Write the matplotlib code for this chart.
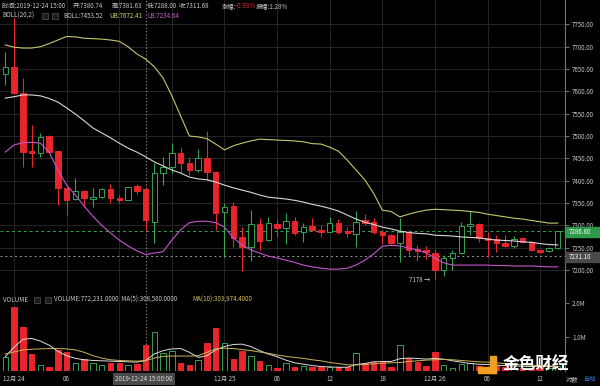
import numpy as np
import pandas as pd
import matplotlib
matplotlib.use("Agg")
import matplotlib.pyplot as plt
from matplotlib.patches import Rectangle

plt.rcParams['font.family'] = ['Noto Sans CJK SC', 'DejaVu Sans']

# 1小时K线, 2019-12-23 23:00 起
times = pd.date_range('2019-12-23 23:00', periods=64, freq='h')

opens = [7640, 7655, 7597, 7467, 7461, 7500, 7466, 7383, 7358, 7378,
         7359, 7364, 7381, 7362, 7357, 7387, 7380.74, 7308, 7417, 7430,
         7463, 7440, 7424, 7451, 7420, 7329, 7343, 7273, 7251, 7302,
         7267, 7302, 7293, 7310, 7284, 7299, 7290, 7286, 7305, 7287,
         7281, 7312, 7308, 7284, 7278, 7261, 7286, 7246, 7245, 7237,
         7200, 7226, 7237, 7299, 7303, 7271, 7269, 7261, 7254, 7271,
         7263, 7245, 7243, 7249]
highs = [7689, 7765, 7629, 7525, 7506, 7502, 7467, 7385, 7405, 7380,
         7384, 7383, 7392, 7368, 7385, 7392, 7381.63, 7439, 7454, 7484,
         7476, 7454, 7472, 7512, 7422, 7349, 7353, 7297, 7334, 7317,
         7318, 7315, 7327, 7319, 7305, 7316, 7301, 7319, 7315, 7297,
         7333, 7325, 7316, 7290, 7280, 7316, 7290, 7256, 7253, 7248,
         7234, 7245, 7308, 7331, 7305, 7286, 7278, 7278, 7276, 7274,
         7266, 7247, 7252, 7288]
lows = [7614, 7595, 7431, 7431, 7454, 7463, 7345, 7323, 7357, 7342,
        7340, 7362, 7349, 7349, 7356, 7370, 7288.00, 7260, 7390, 7417,
        7417, 7412, 7420, 7401, 7290, 7230, 7252, 7198, 7221, 7245,
        7265, 7275, 7258, 7278, 7263, 7288, 7275, 7284, 7281, 7275,
        7252, 7300, 7280, 7258, 7258, 7219, 7234, 7221, 7225, 7178,
        7187, 7200, 7236, 7278, 7263, 7230, 7241, 7252, 7250, 7260,
        7243, 7239, 7240, 7248]
closes = [7655, 7597, 7465, 7463, 7498, 7465, 7384, 7357, 7378, 7361,
          7364, 7381, 7361, 7357, 7385, 7378, 7311.68, 7417, 7431, 7463,
          7440, 7424, 7451, 7419, 7328, 7342, 7272, 7251, 7302, 7266,
          7305, 7293, 7310, 7282, 7297, 7290, 7286, 7305, 7286, 7282,
          7307, 7305, 7284, 7278, 7261, 7286, 7245, 7242, 7241, 7200,
          7226, 7237, 7299, 7303, 7271, 7267, 7261, 7254, 7269, 7263,
          7245, 7241, 7249, 7286.80]

# BOLL(20,2)
boll_ub = [7704, 7699, 7697, 7697, 7700, 7707, 7715, 7723, 7722, 7719,
           7718, 7717, 7715, 7712, 7700, 7684, 7672.41, 7655, 7630, 7590,
           7545, 7500, 7498, 7494, 7482, 7469, 7478, 7484, 7489, 7493,
           7492, 7491, 7490, 7489, 7487, 7483, 7482, 7475, 7466, 7446,
           7424, 7402, 7372, 7334, 7331, 7319, 7325, 7330, 7334, 7336,
           7335, 7334, 7333, 7331, 7329, 7325, 7322, 7319, 7316, 7314,
           7311, 7308, 7305, 7305]
boll_mb = [7585, 7588, 7592, 7592, 7590, 7584, 7576, 7563, 7549, 7534,
           7518, 7507, 7496, 7484, 7473, 7464, 7453.52, 7442, 7433, 7424,
           7417, 7408, 7404, 7402, 7397, 7390, 7384, 7379, 7374, 7368,
           7363, 7361, 7359, 7356, 7352, 7347, 7343, 7338, 7332, 7323,
           7314, 7307, 7302, 7296, 7292, 7287, 7284, 7282, 7281, 7278,
           7277, 7276, 7274, 7273, 7272, 7269, 7267, 7266, 7265, 7263,
           7262, 7259, 7257, 7256]
boll_lb = [7464, 7480, 7485, 7486, 7484, 7464, 7424, 7390, 7368, 7343,
           7320, 7300, 7283, 7267, 7254, 7243, 7234.64, 7238, 7241, 7267,
           7290, 7306, 7309, 7309, 7306, 7296, 7272, 7256, 7245, 7238,
           7231, 7227, 7222, 7217, 7211, 7207, 7204, 7202, 7202, 7204,
           7211, 7222, 7236, 7253, 7255, 7254, 7249, 7245, 7238, 7227,
           7216, 7211, 7211, 7211, 7211, 7211, 7210, 7210, 7209, 7209,
           7209, 7208, 7207, 7207]

# 成交量 (百万)
volume = [0.40, 1.89, 1.30, 0.50, 0.18, 0.11, 0.62, 0.57, 0.25, 0.35,
          0.25, 0.18, 0.23, 0.23, 0.18, 0.21, 0.772, 1.14, 0.54, 0.59,
          0.25, 0.18, 0.32, 0.81, 1.27, 0.81, 0.35, 0.60, 0.44, 0.29,
          0.17, 0.10, 0.23, 0.11, 0.15, 0.11, 0.11, 0.11, 0.11, 0.11,
          0.52, 0.23, 0.27, 0.27, 0.13, 0.76, 0.37, 0.27, 0.15, 0.57,
          0.18, 0.08, 0.21, 0.23, 0.15, 0.11, 0.17, 0.11, 0.10, 0.10,
          0.10, 0.12, 0.10, 0.15]
vol_ma5 = [0.42, 0.70, 0.93, 0.96, 0.88, 0.76, 0.58, 0.45, 0.37, 0.33,
           0.31, 0.30, 0.29, 0.28, 0.27, 0.26, 0.31, 0.50, 0.60, 0.65,
           0.66, 0.55, 0.40, 0.45, 0.62, 0.72, 0.78, 0.79, 0.72, 0.60,
           0.50, 0.42, 0.32, 0.24, 0.20, 0.16, 0.13, 0.12, 0.11, 0.11,
           0.19, 0.22, 0.27, 0.28, 0.28, 0.36, 0.38, 0.37, 0.35, 0.37,
           0.35, 0.30, 0.26, 0.22, 0.20, 0.19, 0.17, 0.16, 0.15, 0.14,
           0.13, 0.13, 0.13, 0.13]
vol_ma10 = [0.50, 0.56, 0.62, 0.64, 0.65, 0.66, 0.66, 0.65, 0.62, 0.55,
            0.45, 0.38, 0.33, 0.31, 0.30, 0.29, 0.304, 0.38, 0.43, 0.44,
            0.44, 0.44, 0.45, 0.55, 0.65, 0.67, 0.66, 0.63, 0.60, 0.56,
            0.52, 0.47, 0.43, 0.40, 0.37, 0.33, 0.30, 0.25, 0.22, 0.18,
            0.18, 0.19, 0.21, 0.23, 0.24, 0.25, 0.28, 0.30, 0.32, 0.33,
            0.34, 0.33, 0.31, 0.29, 0.27, 0.26, 0.24, 0.22, 0.20, 0.18,
            0.17, 0.16, 0.15, 0.14]

price_ticks = list(range(7200, 7751, 50))
vol_ticks = [1.0, 2.0]
last_price = 7286.80
prev_price = 7231.10
low_price = 7178
hover = 16  # 2019-12-24 15:00

RED = '#e8252b'
GREEN = '#35a352'
TXT = '#c8c8c8'
GRID = '#252525'
FS = 4.5

W, H = 600, 386
fx = lambda px: px / W
fy = lambda py: 1 - py / H

fig = plt.figure(figsize=(6, 3.86), dpi=100, facecolor='black')
ax = fig.add_axes([0, fy(295), fx(565), 295 / H], facecolor='black')
axv = fig.add_axes([0, fy(371), fx(565), 76 / H], facecolor='black')

idx = np.arange(len(times))
o = np.array(opens); c = np.array(closes)
up = c >= o
cols = np.where(up, GREEN, RED)

for a in (ax, axv):
    a.set_xlim(-0.6, 63.83)
    for s in ('top', 'left', 'bottom'):
        a.spines[s].set_visible(False)
    a.spines['right'].set_color('#777777')
    a.spines['right'].set_linewidth(0.8)
    a.set_xticks([])
    a.yaxis.tick_right()
    a.tick_params(axis='y', colors='#888888', labelcolor=TXT, labelsize=FS,
                  length=3, width=0.6, pad=2)
    for i, t in enumerate(times):
        if t.hour % 6 == 0:
            a.axvline(i, color=GRID, lw=0.7, zorder=0)
    a.axvline(hover, color='#9a9a9a', lw=0.8, ls=(0, (1, 2)), zorder=1)

# 价格面板
ax.set_ylim(7144.0, 7804.6)
ax.set_yticks(price_ticks)
ax.set_yticklabels([f'{p:.2f}' for p in price_ticks])
for p in price_ticks:
    ax.axhline(p, color=GRID, lw=0.7, zorder=0)
ax.spines['bottom'].set_visible(True)
ax.spines['bottom'].set_color('#444444')

ax.vlines(idx, lows, highs, colors=cols, lw=0.8, zorder=2)
body_h = np.abs(c - o)
body_h = np.where(body_h < 1.5, 1.5, body_h)
ax.bar(idx, body_h, bottom=np.minimum(o, c), width=0.62,
       color=np.where(up, 'black', RED), edgecolor=cols, linewidth=0.7, zorder=3)

ax.plot(idx, boll_ub, color='#c8c56a', lw=0.8, zorder=4)
ax.plot(idx, boll_mb, color='#d8d8d8', lw=0.8, zorder=4)
ax.plot(idx, boll_lb, color='#c357c9', lw=0.8, zorder=4)

ax.axhline(last_price, color=GREEN, lw=0.7, ls=(0, (3, 3)), zorder=1)
ax.axhline(prev_price, color='#9a9a9a', lw=0.7, ls=(0, (2, 3)), zorder=1)
i_low = int(np.argmin(lows))
ax.text(i_low - 0.5, low_price, '7178 →', color=TXT, fontsize=FS,
        ha='right', va='center')

# 成交量面板
axv.set_ylim(0, 76 / 34)
axv.set_yticks(vol_ticks)
axv.set_yticklabels([f'{v:.1f}M' for v in vol_ticks])
axv.bar(idx, volume, width=0.62, color=np.where(up, 'black', RED),
        edgecolor=cols, linewidth=0.7, zorder=3)
axv.plot(idx, vol_ma5, color='#dcdcdc', lw=0.7, zorder=4)
axv.plot(idx, vol_ma10, color='#c9b75a', lw=0.7, zorder=4)

# 顶部信息
def ftext(x, y, s, color=TXT, size=FS, **kw):
    fig.text(fx(x), fy(y), s, color=color, fontsize=size, va='center', **kw)

ftext(2, 6, '时间:2019-12-24 15:00')
ftext(73, 6, '开:7380.74')
ftext(112, 6, '高:7381.63')
ftext(147, 6, '低:7288.00')
ftext(179, 6, '收:7311.68')
ftext(222, 6, '涨幅:')
ftext(236, 6, '-0.93%', color=RED)
ftext(256, 6, '振幅:1.28%')

ftext(2, 16, 'BOLL(20,2)')
ftext(63, 16, 'BOLL:7453.52')
ftext(109, 16, 'UB:7672.41', color='#d6d36a')
ftext(147, 16, 'LB:7234.64', color='#cf5fd2')

ftext(3, 300, 'VOLUME')
ftext(54, 300, 'VOLUME:772,231.0000  MA(5):308,580.0000')
ftext(192, 300, 'MA(10):303,974.4000', color='#d6c35a')

for x0, y0 in [(42, 16), (52, 16), (34, 300), (45, 300)]:
    fig.patches.append(Rectangle((fx(x0), fy(y0 + 3)), fx(6), 6 / H,
                                 transform=fig.transFigure, facecolor='#1c1c1c',
                                 edgecolor='#555555', lw=0.5))

# 右侧价格标签
fig.patches.append(Rectangle((fx(565), fy(237)), fx(35), 10 / H,
                             transform=fig.transFigure, color='#2c9a4b'))
ftext(569, 232, f'{last_price:.2f}', color='white')
fig.patches.append(Rectangle((fx(565), fy(261.5)), fx(35), 9.5 / H,
                             transform=fig.transFigure, color='#4a4a4a'))
ftext(569, 257, f'{prev_price:.2f}', color='white')

# 时间轴 (悬停标签遮住附近刻度)
for i, t in enumerate(times):
    if t.hour % 6 == 0 and abs(i - hover) > 4:
        lab = f'{t.month}月 {t.day}' if t.hour == 0 else f'{t.hour:02d}'
        ftext(14 + (i - 1) * 8.77, 379, lab, ha='center')
fig.text(fx(144), fy(379), '2019-12-24 15:00:00', color='#dddddd', fontsize=FS,
         ha='center', va='center',
         bbox=dict(boxstyle='square,pad=0.35', facecolor='#4a4a4a', edgecolor='none'))
ftext(566, 379, '对数')
ftext(584, 379, '自动', color='#3d7fe0')

# 水印
fig.patches.append(Rectangle((fx(478), fy(373)), fx(18), 6 / H,
                             transform=fig.transFigure, color='#f0a020', zorder=5))
fig.patches.append(Rectangle((fx(490), fy(373)), fx(6), 17 / H,
                             transform=fig.transFigure, color='#f0a020', zorder=5))
fig.text(fx(503), fy(364), '金色财经', color='white', fontsize=12,
         fontweight='bold', va='center', zorder=6)

fig.savefig('out.png', dpi=100, facecolor='black')
